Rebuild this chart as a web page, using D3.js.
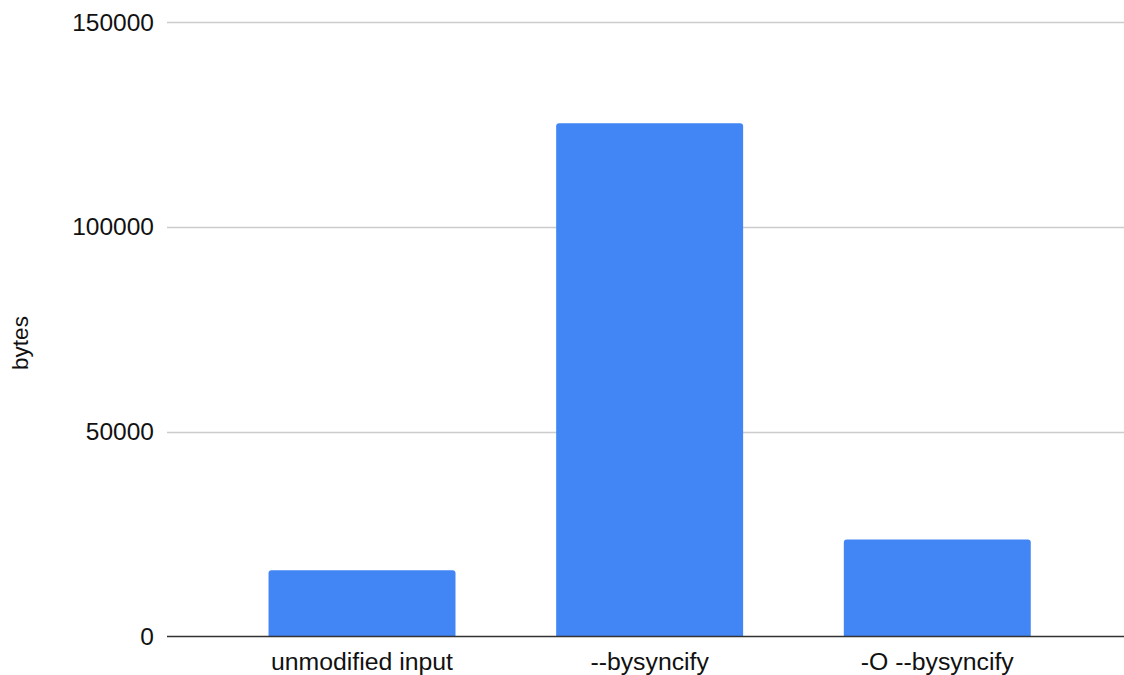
<!DOCTYPE html>
<html>
<head>
<meta charset="utf-8">
<script src="https://cdn.jsdelivr.net/npm/d3@7"></script>
<style>
  html, body { margin: 0; padding: 0; background: #fff; }
  svg { display: block; font-family: "Liberation Sans", Arial, sans-serif; }
</style>
</head>
<body>
<svg id="chart" width="1124" height="675"></svg>
<script>
const categories = ["unmodified input", "--bysyncify", "-O --bysyncify"];
const values = [16200, 125300, 23700];
const yTicks = [0, 50000, 100000, 150000];
const yLabel = "bytes";

const svg = d3.select("#chart");
const gridLeft = 167, gridRight = 1124;

const y = d3.scaleLinear().domain([0, 150000]).range([636.5, 22]);
const x = d3.scaleBand().domain(categories).range([218.2, 1081.1])
  .paddingInner(0.35).paddingOuter(0.175);

// gridlines
svg.append("g").selectAll("line").data(yTicks.filter(d => d !== 0)).join("line")
  .attr("x1", gridLeft).attr("x2", gridRight)
  .attr("y1", d => Math.round(y(d)) + 0.5).attr("y2", d => Math.round(y(d)) + 0.5)
  .attr("stroke", "#cccccc").attr("stroke-width", 1.5);

// y tick labels
svg.append("g").selectAll("text").data(yTicks).join("text")
  .attr("x", 154).attr("y", d => y(d))
  .attr("dy", "0.35em")
  .attr("text-anchor", "end")
  .attr("font-size", 24.5)
  .attr("fill", "#111")
  .text(d => d);

// bars with rounded top corners
const r = 3;
svg.append("g").selectAll("path").data(values).join("path")
  .attr("d", (d, i) => {
    const x0 = x(categories[i]), x1 = x0 + x.bandwidth();
    const yt = y(d), yb = y(0);
    return `M${x0},${yb}V${yt + r}Q${x0},${yt} ${x0 + r},${yt}H${x1 - r}Q${x1},${yt} ${x1},${yt + r}V${yb}Z`;
  })
  .attr("fill", "#4285f4");

// baseline
svg.append("line")
  .attr("x1", gridLeft).attr("x2", gridRight)
  .attr("y1", y(0)).attr("y2", y(0))
  .attr("stroke", "#333").attr("stroke-width", 1.5);

// x labels
svg.append("g").selectAll("text").data(categories).join("text")
  .attr("x", d => x(d) + x.bandwidth() / 2)
  .attr("y", 670)
  .attr("text-anchor", "middle")
  .attr("font-size", 24.8)
  .attr("fill", "#111")
  .text(d => d);

// y axis title
svg.append("text")
  .attr("transform", "translate(28,343) rotate(-90)")
  .attr("text-anchor", "middle")
  .attr("font-size", 22.5)
  .attr("fill", "#111")
  .text(yLabel);
</script>
</body>
</html>
